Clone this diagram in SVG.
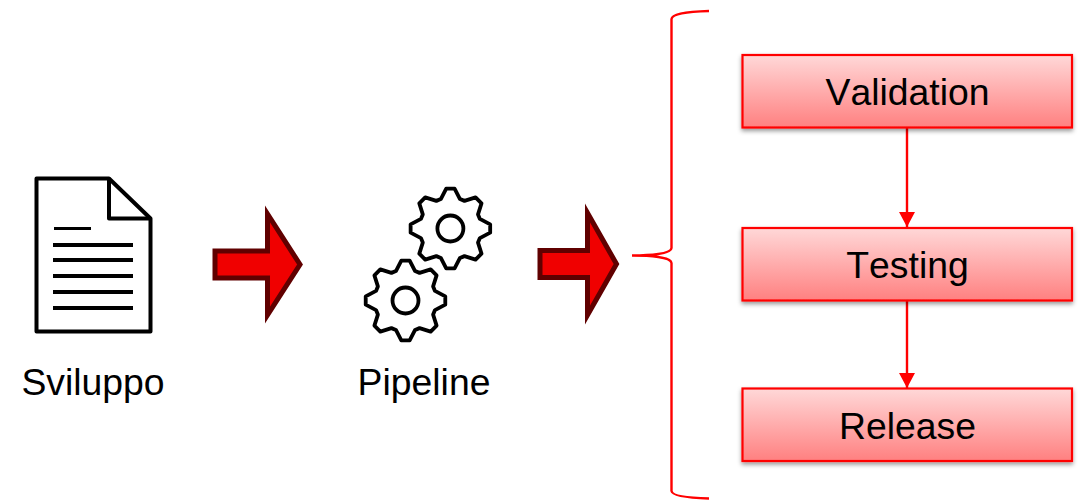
<svg xmlns="http://www.w3.org/2000/svg" xmlns:xlink="http://www.w3.org/1999/xlink" width="1082" height="500" viewBox="0 0 1082 500">
<style>
text{font-family:"Liberation Sans",Arial,sans-serif;font-size:37.33px;font-kerning:none;fill:#000}
.box{fill:url(#g);stroke:#f00;stroke-width:2.2;filter:url(#s)}
.big{fill:#f00000;stroke:#600000;stroke-width:5;stroke-linejoin:miter;stroke-miterlimit:10}
.ink{fill:none;stroke:#000;stroke-width:3.8;stroke-linejoin:round}
.ln{fill:none;stroke:#000;stroke-width:4}
.con{fill:none;stroke:#f00;stroke-width:2.4}
</style>
<defs>
<linearGradient id="g" x1="0" y1="0" x2="0" y2="1"><stop offset="0" stop-color="#ffd8d8"/><stop offset="1" stop-color="#ff8080"/></linearGradient>
<filter id="s" x="-5%" y="-15%" width="110%" height="135%"><feDropShadow dx="0" dy="2.5" stdDeviation="2" flood-color="#000" flood-opacity="0.4"/></filter>
<marker id="a" markerUnits="userSpaceOnUse" markerWidth="16" markerHeight="16" refX="15" refY="8" orient="auto"><path d="M0 0L15 8L0 16Z" fill="#f00"/></marker>
<path id="gear" d="M-4.18-39.78L4.18-39.78L9.58-29.48L14.07-27.62L25.17-31.09L31.09-25.17L27.62-14.07L29.48-9.58L39.78-4.18L39.78 4.18L29.48 9.58L27.62 14.07L31.09 25.17L25.17 31.09L14.07 27.62L9.58 29.48L4.18 39.78L-4.18 39.78L-9.58 29.48L-14.07 27.62L-25.17 31.09L-31.09 25.17L-27.62 14.07L-29.48 9.58L-39.78 4.18L-39.78-4.18L-29.48-9.58L-27.62-14.07L-31.09-25.17L-25.17-31.09L-14.07-27.62L-9.58-29.48Z"/>
</defs>
<rect width="1082" height="500" fill="#fff"/>
<g id="connectors">
<path class="con" d="M907 128V227" marker-end="url(#a)"/>
<path class="con" d="M907 301V388" marker-end="url(#a)"/>
<path class="con" d="M709 11C692 11.500 672 13 671.500 19L671.500 248C671 254 650 255.500 632 255.500C650 255.500 671 257 671.500 263L671.500 491C672 496.500 692 498 709 498.500"/>
</g>
<g id="sviluppo">
<path class="ink" style="stroke-width:4" d="M36.500 178.500H109L150.500 218.500V331.500H36.500Z"/>
<path class="ink" style="stroke-width:4" d="M109 178.500V218.500H150.500"/>
<path class="ln" style="stroke-width:3" d="M54 228.500H91"/>
<path class="ln" d="M53 245H133M53 260H133M53 276H133M53 292H133M53 308H133"/>
<text x="93" y="394.500" text-anchor="middle">Sviluppo</text>
</g>
<g id="arrow1"><path class="big" d="M215 251H267.500V214L300 264.500L267.500 315V278H215Z"/></g>
<g id="pipeline">
<use xlink:href="#gear" href="#gear" class="ink" transform="translate(450.400 228.500)"/>
<circle class="ink" cx="450.400" cy="228.500" r="13"/>
<use xlink:href="#gear" href="#gear" class="ink" transform="translate(405.500 300.500)"/>
<circle class="ink" cx="405.500" cy="300.500" r="13"/>
<text x="424" y="394.500" text-anchor="middle">Pipeline</text>
</g>
<g id="arrow2"><path class="big" d="M540 250.500H587.500V213L616.500 264L587.500 315V277.500H540Z"/></g>
<g id="validation"><rect class="box" x="742.500" y="55" width="329.500" height="72.500"/><text x="907.500" y="105" text-anchor="middle">Validation</text></g>
<g id="testing"><rect class="box" x="742.500" y="228" width="329.500" height="72.500"/><text x="907.500" y="278" text-anchor="middle">Testing</text></g>
<g id="release"><rect class="box" x="742.500" y="388.500" width="329.500" height="72.500"/><text x="907.500" y="438.500" text-anchor="middle">Release</text></g>
</svg>
